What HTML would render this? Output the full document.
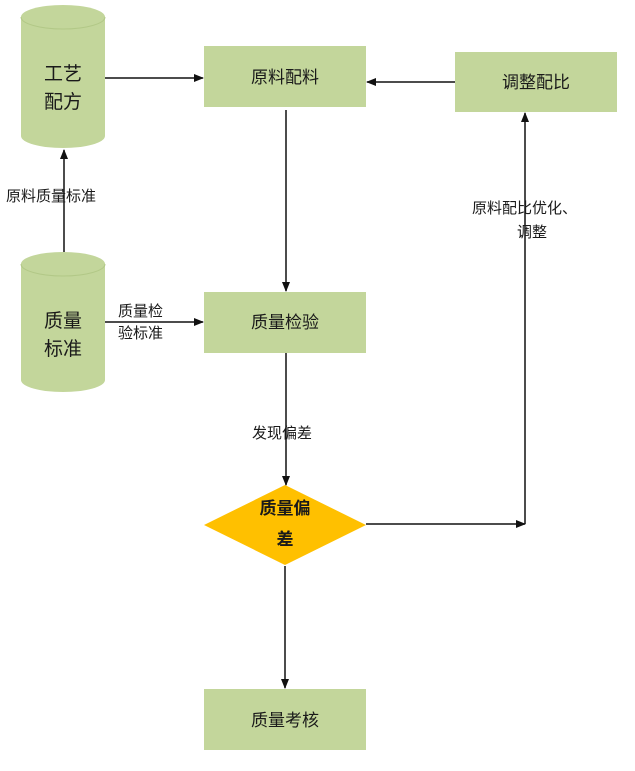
<!DOCTYPE html>
<html><head><meta charset="utf-8"><style>
body{margin:0;background:#fff}
svg text{font-family:"Liberation Sans","Noto Sans CJK SC",sans-serif;fill:#1a1a1a}
</style></head><body>
<svg width="635" height="766" viewBox="0 0 635 766" xmlns="http://www.w3.org/2000/svg">
<defs><marker id="a" markerWidth="10" markerHeight="10" refX="9" refY="5" orient="auto" markerUnits="userSpaceOnUse"><path d="M0,1 L10,5 L0,9 z" fill="#111"/></marker></defs>
<g fill="#c3d69b">
<path d="M21,17 A42,12 0 0 1 105,17 L105,136 A42,12 0 0 1 21,136 Z"/>
<path d="M21,264 A42,12 0 0 1 105,264 L105,380 A42,12 0 0 1 21,380 Z"/>
<rect x="204" y="46" width="162" height="61"/>
<rect x="455" y="52" width="162" height="60"/>
<rect x="204" y="292" width="162" height="61"/>
<rect x="204" y="689" width="162" height="61"/>
</g>
<path d="M21,17 A42,12 0 0 0 105,17" fill="none" stroke="#b2c887" stroke-width="1"/>
<path d="M21,264 A42,12 0 0 0 105,264" fill="none" stroke="#b2c887" stroke-width="1"/>
<polygon points="204,525 285,485 366,525 285,565" fill="#ffc000"/>
<g stroke="#111" stroke-width="1.5" fill="none" marker-end="url(#a)">
<line x1="105" y1="78" x2="203" y2="78"/>
<line x1="455" y1="82" x2="367" y2="82"/>
<line x1="64" y1="252" x2="64" y2="150"/>
<line x1="105" y1="322" x2="203" y2="322"/>
<line x1="286" y1="110" x2="286" y2="291"/>
<line x1="286" y1="353" x2="286" y2="485"/>
<line x1="366" y1="524" x2="525" y2="524"/>
<line x1="525" y1="524" x2="525" y2="113"/>
<line x1="285" y1="566" x2="285" y2="688"/>
</g>
<g font-size="19" text-anchor="middle">
<text x="63" y="80">工艺</text><text x="63" y="108">配方</text>
<text x="63" y="327">质量</text><text x="63" y="355">标准</text>
</g>
<g font-size="17" text-anchor="middle">
<text x="285" y="83">原料配料</text>
<text x="536" y="88">调整配比</text>
<text x="285" y="328">质量检验</text>
<text x="285" y="726">质量考核</text>
<text x="285" y="514" font-weight="bold">质量偏</text>
<text x="285" y="545" font-weight="bold">差</text>
</g>
<g font-size="15">
<text x="6" y="201">原料质量标准</text>
<text x="118" y="316">质量检</text><text x="118" y="338">验标准</text>
<text x="252" y="438">发现偏差</text>
<text x="472" y="213">原料配比优化、</text>
<text x="517" y="237">调整</text>
</g>
</svg>
</body></html>
